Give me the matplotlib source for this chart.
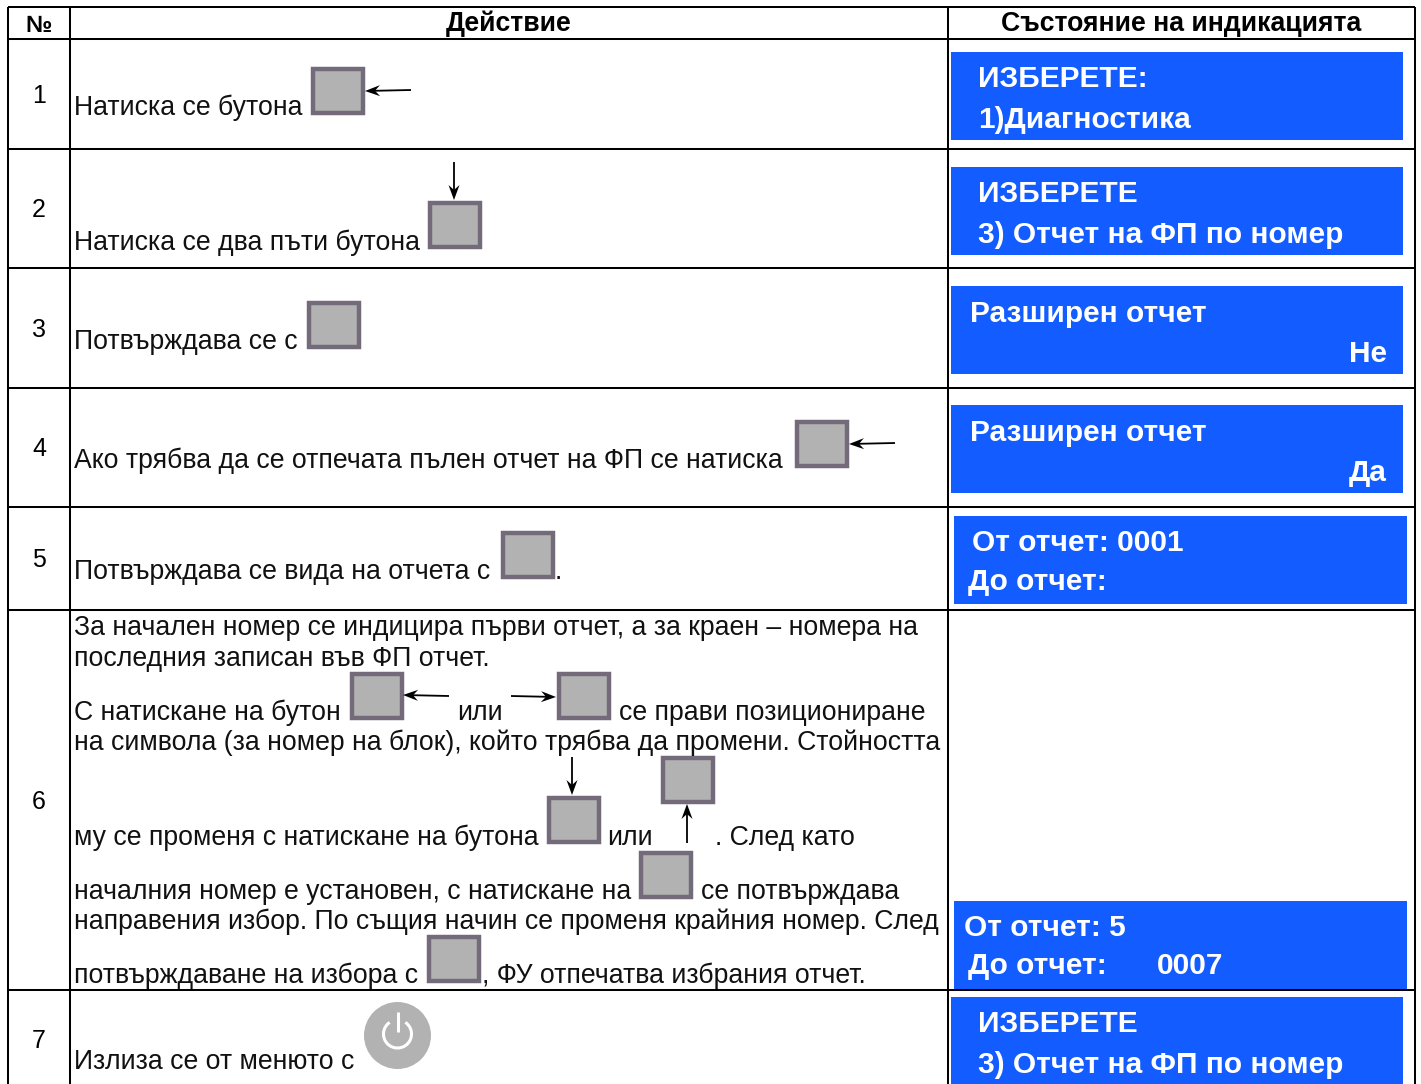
import matplotlib
matplotlib.use("Agg")
import matplotlib.pyplot as plt
import numpy as np
from matplotlib.patches import Rectangle, Circle, Arc, Polygon

plt.rcParams['font.family'] = ['Liberation Sans', 'DejaVu Sans']

W, H = 1421, 1084
BLUE = "#135cff"
BTN_EDGE = "#736b7a"
BTN_FILL = "#b2b2b2"

# table grid
col_x = [7.5, 70, 948, 1415]
row_y = [7, 39, 149, 268, 388, 507, 610, 990, 1090]
header = ["№", "Действие", "Състояние на индикацията"]
row_nums = ["1", "2", "3", "4", "5", "6", "7"]
num_y = [96, 210, 330, 449, 560, 802, 1041]

# action texts: text, x, baseline y
action_text = [
    ("Натиска се бутона", 74, 115),
    ("Натиска се два пъти бутона", 74, 250),
    ("Потвърждава се с", 74, 349),
    ("Ако трябва да се отпечата пълен отчет на ФП се натиска", 74, 468),
    ("Потвърждава се вида на отчета с", 74, 579),
    (".", 555, 579),
    ("За начален номер се индицира първи отчет, а за краен – номера на", 74, 635),
    ("последния записан във ФП отчет.", 74, 666),
    ("С натискане на бутон", 74, 720),
    ("или", 457, 720),
    ("се прави позициониране", 619, 720),
    ("на символа (за номер на блок), който трябва да промени. Стойността", 74, 750),
    ("му се променя с натискане на бутона", 74, 845),
    ("или", 607, 845),
    (". След като", 715, 845),
    ("началния номер е установен, с натискане на", 74, 899),
    ("се потвърждава", 701, 899),
    ("направения избор. По същия начин се променя крайния номер. След", 74, 929),
    ("потвърждаване на избора с", 74, 983),
    (", ФУ отпечатва избрания отчет.", 482, 983),
    ("Излиза се от менюто с", 74, 1069),
]

# buttons: left, top
buttons = [(311, 67), (428, 201), (307, 301), (795, 420), (501, 531), (350, 672),
           (557, 672), (547, 796), (661, 756), (639, 851), (427, 935)]
btn_w, btn_h = 54, 48

# arrows: start, tip
arrows = [
    ((411, 90), (365, 91)),
    ((454, 162), (454, 200)),
    ((895, 443), (849, 444)),
    ((449, 696), (403, 695)),
    ((511, 696), (556, 697)),
    ((572, 757), (572, 795)),
    ((687, 843), (687, 804)),
]

# indicator panels: left, top, right, bottom
panels = [(951, 52, 1403, 140), (951, 167, 1403, 255), (951, 286, 1403, 374),
          (951, 405, 1403, 493), (954, 516, 1407, 604), (954, 901, 1407, 989),
          (951, 997, 1403, 1085)]
panel_text = [
    ("ИЗБЕРЕТЕ:", 978, 87, "left"),
    ("1)Диагностика", 978, 128, "left"),
    ("ИЗБЕРЕТЕ", 978, 202, "left"),
    ("3) Отчет на ФП по номер", 978, 243, "left"),
    ("Разширен отчет", 970, 322, "left"),
    ("Не", 1387, 362, "right"),
    ("Разширен отчет", 970, 441, "left"),
    ("Да", 1387, 481, "right"),
    ("От отчет: 0001", 972, 551, "left"),
    ("До отчет:", 968, 590, "left"),
    ("От отчет: 5", 964, 936, "left"),
    ("До отчет:", 968, 974, "left"),
    ("0007", 1157, 974, "left"),
    ("ИЗБЕРЕТЕ", 978, 1032, "left"),
    ("3) Отчет на ФП по номер", 978, 1073, "left"),
]

fig = plt.figure(figsize=(W / 100, H / 100), dpi=100)
ax = fig.add_axes([0, 0, 1, 1])
ax.set_xlim(0, W)
ax.set_ylim(H, 0)
ax.axis("off")

# grid lines
for y in row_y[:-1]:
    ax.plot([col_x[0], col_x[-1]], [y, y], color="black", lw=1.45, solid_capstyle="butt")
for x in col_x:
    ax.plot([x, x], [row_y[0], H], color="black", lw=1.45, solid_capstyle="butt")

# header
ax.text(39, 25, header[0], fontsize=17, fontweight="bold", ha="center", va="center")
ax.text(509, 24, header[1], fontsize=19.2, fontweight="bold", ha="center", va="center")
ax.text(1181, 24, header[2], fontsize=19.2, fontweight="bold", ha="center", va="center")

for n, y in zip(row_nums, num_y):
    ax.text(39, y, n, fontsize=18, ha="center", va="center")

for t, x, y in action_text:
    ax.text(x, y, t, fontsize=19.2, ha="left", va="baseline", color="#111111")

for x, y in buttons:
    ax.add_patch(Rectangle((x + 2.25, y + 2.25), btn_w - 4.5, btn_h - 4.5, facecolor=BTN_FILL,
                           edgecolor=BTN_EDGE, lw=3.2))

# barbed arrows like the drawn ones in the original
for start, tip in arrows:
    p0, p1 = np.array(start, float), np.array(tip, float)
    d = (p1 - p0) / np.hypot(*(p1 - p0))
    n = np.array([-d[1], d[0]])
    ax.plot([p0[0], (p1 - 8 * d)[0]], [p0[1], (p1 - 8 * d)[1]], color="black", lw=1.3,
            solid_capstyle="butt")
    ax.add_patch(Polygon([p1, p1 - 15 * d + 5.5 * n, p1 - 10 * d, p1 - 15 * d - 5.5 * n],
                         closed=True, facecolor="black", edgecolor="none"))

# power button
ax.add_patch(Circle((397.5, 1035.5), 33.5, facecolor=BTN_FILL, edgecolor="none"))
ax.add_patch(Arc((397.5, 1034), 28, 28, theta1=-56, theta2=236, color="white", lw=2.2))
ax.plot([397.5, 397.5], [1012, 1032], color="white", lw=2.2, solid_capstyle="butt")

for l, t, r, b in panels:
    ax.add_patch(Rectangle((l, t), r - l, b - t, facecolor=BLUE, edgecolor="none"))

for t, x, y, ha in panel_text:
    ax.text(x, y, t, fontsize=21.5, fontweight="bold", color="white", ha=ha, va="baseline")

fig.savefig("out.png", dpi=100)
